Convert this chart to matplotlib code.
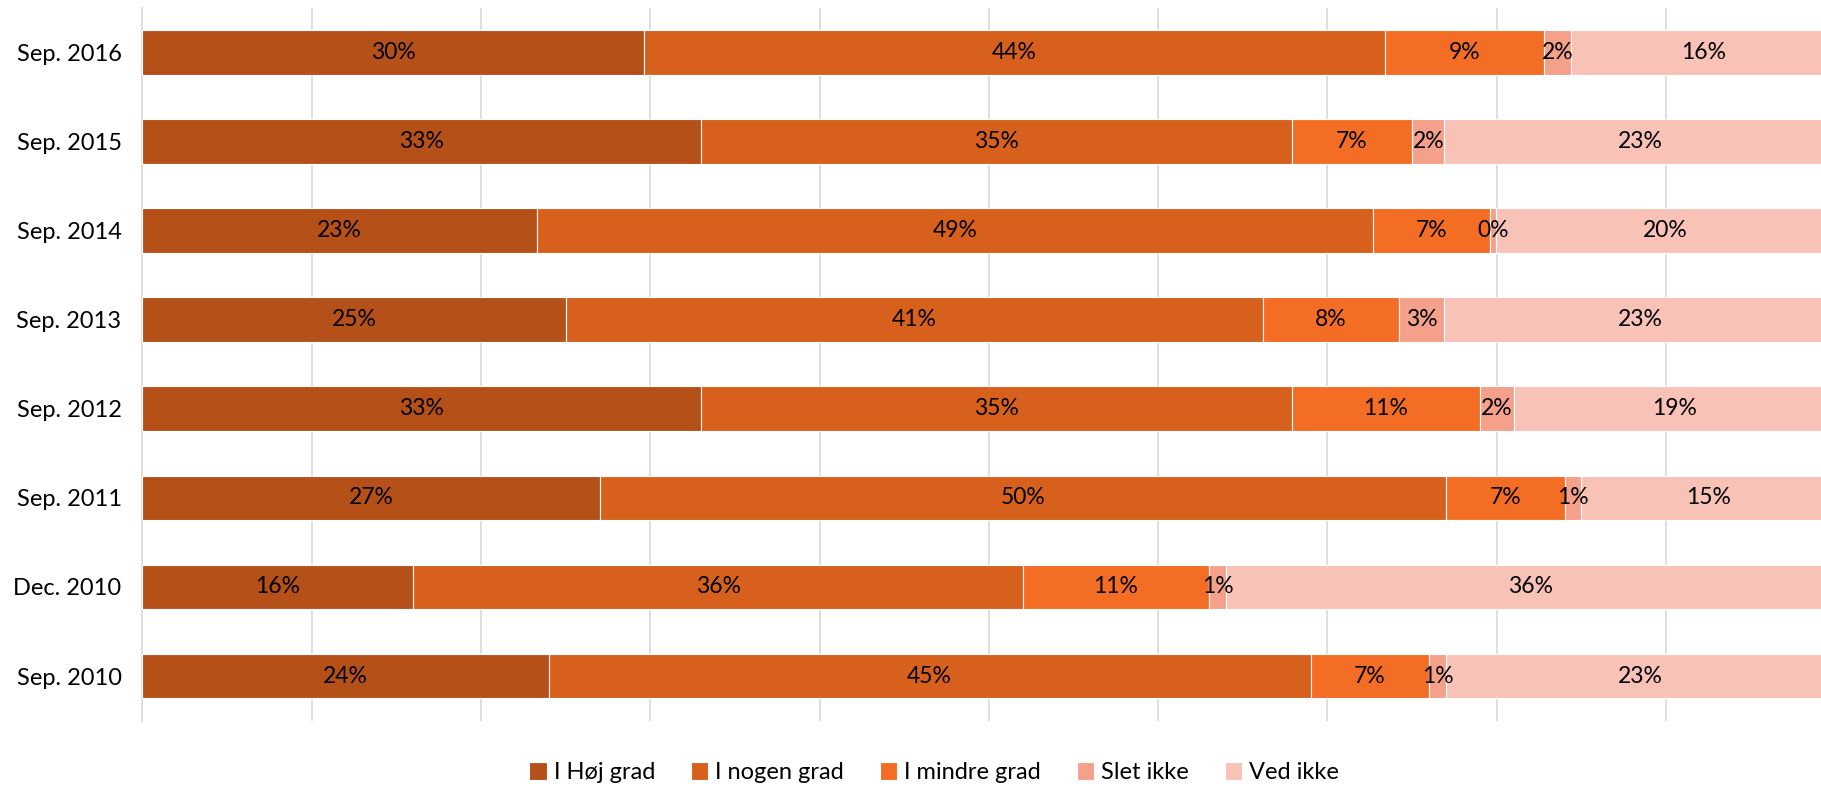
import matplotlib
matplotlib.use("Agg")
import matplotlib.pyplot as plt
import numpy as np

plt.rcParams['font.family'] = ['Lato', 'DejaVu Sans']

categories = ["Sep. 2016", "Sep. 2015", "Sep. 2014", "Sep. 2013",
              "Sep. 2012", "Sep. 2011", "Dec. 2010", "Sep. 2010"]
series_names = ["I Høj grad", "I nogen grad", "I mindre grad", "Slet ikke", "Ved ikke"]
hoej = [29.6, 33.0, 23.3, 25.0, 33.0, 27.0, 16.0, 24.0]
nogen = [43.8, 34.9, 49.4, 41.2, 34.9, 50.0, 36.0, 45.0]
mindre = [9.4, 7.1, 6.9, 8.0, 11.1, 7.0, 11.0, 7.0]
slet = [1.6, 1.9, 0.35, 2.7, 2.0, 1.0, 1.0, 1.0]
vedikke = [15.6, 23.1, 20.05, 23.1, 19.0, 15.0, 36.0, 23.0]
colors = ["#B65019", "#D7601D", "#F36D24", "#F4A08A", "#F8C2B6"]

series = [hoej, nogen, mindre, slet, vedikke]

fig = plt.figure(figsize=(18.21, 7.86), dpi=100)
ax = fig.add_axes([0.0782, 0.0832, 0.9297, 0.9069])

y = np.arange(len(categories))
left = np.zeros(len(categories))
for name, vals, c in zip(series_names, series, colors):
    vals = np.array(vals)
    ax.barh(y, vals, left=left, height=0.5, color=c, edgecolor='white',
            linewidth=0.8, label=name, zorder=3)
    for yi, (l, v) in enumerate(zip(left, vals)):
        ax.text(l + v / 2, yi, f"{round(v)}%", ha='center', va='center',
                fontsize=16.5, color='black', zorder=4)
    left = left + vals

ax.set_xlim(0, 100)
ax.set_ylim(len(categories) - 0.5, -0.5)
ax.set_yticks(y)
ax.set_yticklabels(categories, fontsize=17)
ax.set_xticks(np.arange(0, 101, 10))
ax.tick_params(axis='x', which='both', length=0, labelbottom=False)
ax.tick_params(axis='y', length=0, pad=15)
ax.grid(axis='x', color='#D9D9D9', linewidth=1.2, zorder=0)
for s in ['top', 'right', 'bottom']:
    ax.spines[s].set_visible(False)
ax.spines['left'].set_color('#D9D9D9')
ax.spines['left'].set_linewidth(1.2)

handles, labels = ax.get_legend_handles_labels()
fig.legend(handles, labels, loc='center', bbox_to_anchor=(0.513, 0.017),
           ncol=5, frameon=False, fontsize=17, handlelength=0.75,
           handleheight=0.75, handletextpad=0.3, columnspacing=1.5)

fig.savefig("out.png", dpi=100)
